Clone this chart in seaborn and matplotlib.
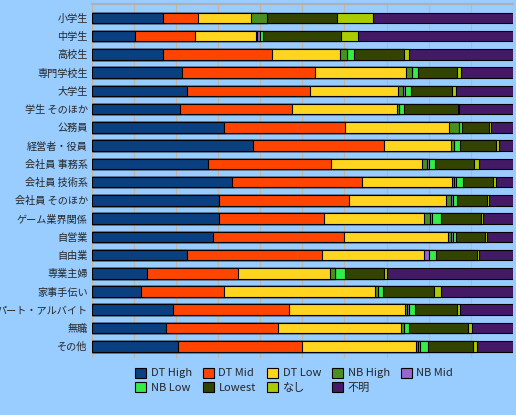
import matplotlib
matplotlib.use("Agg")
import matplotlib.pyplot as plt
import seaborn as sns
import numpy as np
import pandas as pd
from matplotlib.patches import Patch

categories = ["小学生", "中学生", "高校生", "専門学校生", "大学生", "学生 そのほか", "公務員",
              "経営者・役員", "会社員 事務系", "会社員 技術系", "会社員 そのほか", "ゲーム業界関係",
              "自営業", "自由業", "専業主婦", "家事手伝い", "パート・アルバイト", "無職", "その他"]
series = ["DT High", "DT Mid", "DT Low", "NB High", "NB Mid", "NB Low", "Lowest", "なし", "不明"]
dt_high = [16.8, 10.2, 16.8, 21.3, 22.5, 20.9, 31.3, 38.2, 27.7, 33.4, 30.1, 30.3, 28.7, 22.5, 13.0, 11.6, 19.2, 17.5, 20.4]
dt_mid = [8.3, 14.2, 25.9, 31.8, 29.4, 26.7, 28.9, 31.2, 29.2, 30.8, 31.0, 24.9, 31.3, 32.2, 21.6, 19.9, 27.7, 26.6, 29.4]
dt_low = [12.6, 14.6, 16.2, 21.5, 20.8, 24.9, 24.6, 15.9, 21.5, 21.3, 23.0, 23.7, 24.6, 24.2, 22.0, 35.8, 27.5, 29.4, 27.2]
nb_high = [4.0, 0.3, 1.6, 1.4, 1.2, 0.5, 2.4, 0.7, 1.2, 0.5, 1.2, 1.4, 0.7, 0.0, 1.2, 0.7, 0.5, 0.7, 0.5]
nb_mid = [0.0, 0.5, 0.0, 0.0, 0.5, 0.0, 0.0, 0.0, 0.5, 0.5, 0.5, 0.5, 0.5, 1.2, 0.0, 0.0, 0.5, 0.0, 0.5]
nb_low = [0.0, 0.9, 1.8, 1.5, 1.4, 1.2, 0.7, 1.4, 1.4, 1.7, 0.9, 2.1, 0.7, 1.7, 2.4, 1.2, 1.4, 1.2, 1.9]
lowest = [16.6, 18.4, 11.9, 9.2, 9.7, 12.8, 6.4, 8.6, 9.3, 7.1, 7.2, 9.6, 6.9, 9.7, 9.2, 12.1, 9.9, 14.0, 10.7]
nashi = [8.5, 4.1, 1.2, 1.0, 1.0, 0.2, 0.5, 0.6, 1.1, 0.7, 0.4, 0.5, 0.4, 0.5, 0.7, 1.6, 0.7, 1.0, 0.9]
fumei = [33.2, 36.7, 24.6, 12.3, 13.5, 12.8, 5.2, 3.4, 8.1, 4.0, 5.7, 7.0, 6.2, 8.0, 29.9, 17.1, 12.6, 9.6, 8.5]
colors = ["#0a4080", "#ff4400", "#ffd520", "#4a9020", "#9966cc", "#33ee44", "#334400", "#aacc00", "#441a66"]

data = np.array([dt_high, dt_mid, dt_low, nb_high, nb_mid, nb_low, lowest, nashi, fumei])
data = data / data.sum(axis=0) * 100
cum = np.cumsum(data, axis=0)

sns.set_style("white")
plt.rcParams['font.family'] = ['Noto Sans CJK JP', 'DejaVu Sans']
bg = "#99ccff"
fig = plt.figure(figsize=(5.16, 4.15), dpi=100, facecolor=bg)
ax = fig.add_axes([0.178, 0.137, 0.816, 0.853])
ax.set_facecolor(bg)

for i in range(len(series) - 1, -1, -1):
    df = pd.DataFrame({"cat": categories, "v": cum[i]})
    sns.barplot(data=df, x="v", y="cat", color=colors[i], width=0.58, ax=ax,
                edgecolor="black", linewidth=0.8, saturation=1, orient="h")

ax.set_xlim(0, 100)
ax.set_ylim(len(categories) - 0.35, -0.75)
ax.set_xticks(np.arange(0, 101, 10))
ax.set_xticklabels([])
ax.tick_params(axis="x", length=0)
ax.tick_params(axis="y", length=0, labelsize=7.3, pad=3)
ax.xaxis.grid(True, color="#c8b49a", linewidth=0.8)
ax.set_axisbelow(True)
ax.set_xlabel("")
ax.set_ylabel("")
for s in ["left", "right", "bottom"]:
    ax.spines[s].set_visible(False)
ax.spines["top"].set_color("#b0b0b0")
ax.spines["top"].set_linewidth(1.5)

handles = [Patch(facecolor=c, edgecolor="black", linewidth=0.8, label=s) for s, c in zip(series, colors)]
order = [0, 5, 1, 6, 2, 7, 3, 8, 4]
fig.legend(handles=[handles[k] for k in order], loc="lower center", bbox_to_anchor=(0.57, 0.03), ncol=5,
           frameon=False, fontsize=8, handlelength=1.0, handleheight=1.0, columnspacing=1.0,
           handletextpad=0.4, labelspacing=0.3)
fig.savefig("out.png", dpi=100, facecolor=bg)
